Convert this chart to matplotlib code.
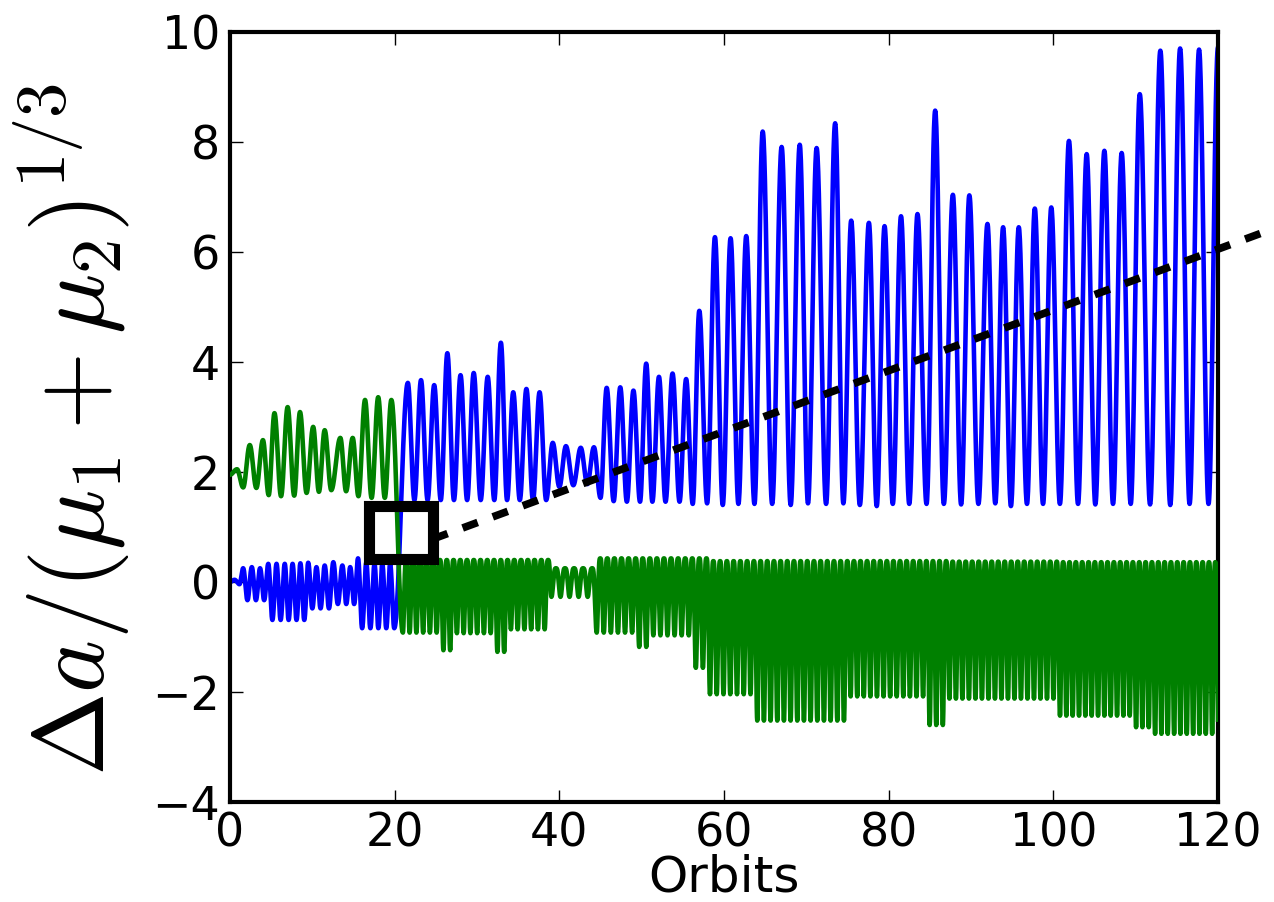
import numpy as np
import matplotlib
matplotlib.use("Agg")
import matplotlib.pyplot as plt
from matplotlib.patches import Rectangle

plt.rcParams['mathtext.fontset'] = 'cm'
plt.rcParams['font.family'] = ['DejaVu Sans']

# ---------------- data ----------------
# x axis: orbits, y axis: Delta a / (mu1+mu2)^(1/3)
x_ticks = [0, 20, 40, 60, 80, 100, 120]
y_ticks = [-4, -2, 0, 2, 4, 6, 8, 10]

# blue body: starts near 0, jumps to upper branch at ~20 orbits
blue_start_t = [0.0, 0.55, 1.15]
blue_start_y = [0.0, 0.04, -0.04]
blue_low_peak_t = [1.6, 2.65, 3.65, 4.65, 5.65, 6.65, 7.6, 8.55, 9.5, 10.5,
                   11.5, 12.55, 13.65, 14.6, 15.55, 16.55, 17.55, 18.5, 19.45]
blue_low_peak_y = [0.25, 0.27, 0.25, 0.33, 0.33, 0.33, 0.33, 0.34, 0.35, 0.27,
                   0.30, 0.36, 0.30, 0.27, 0.43, 0.35, 0.33, 0.33, 0.33]
blue_low_trough_t = [2.12, 3.15, 4.15, 5.15, 6.15, 7.12, 8.08, 9.02, 10.0, 11.0,
                     12.02, 13.1, 14.12, 15.08, 16.05, 17.05, 18.02, 18.98, 19.95]
blue_low_trough_y = [-0.33, -0.33, -0.33, -0.69, -0.69, -0.69, -0.69, -0.69, -0.48, -0.48,
                     -0.48, -0.40, -0.40, -0.40, -0.84, -0.84, -0.84, -0.84, -0.84]
blue_high_peak_t = [21.6, 23.2, 24.8, 26.4, 28.0, 29.6, 31.3, 32.9, 34.4, 36.0,
                    37.6, 39.2, 40.8, 42.6, 44.2, 45.75, 47.4, 49.0, 50.55, 52.1,
                    53.75, 55.4, 57.0, 58.9, 60.8, 62.7, 64.7, 67.0, 69.2, 71.25,
                    73.5, 75.45, 77.6, 79.5, 81.5, 83.5, 85.65, 87.8, 89.8, 92.0,
                    93.9, 95.8, 97.75, 99.75, 101.9, 104.05, 106.2, 108.3, 110.5, 113.0,
                    115.4, 117.7, 120.0]
blue_high_peak_y = [3.62, 3.67, 3.58, 4.16, 3.76, 3.80, 3.73, 4.35, 3.45, 3.51,
                    3.45, 2.53, 2.47, 2.44, 2.45, 3.53, 3.54, 3.48, 3.97, 3.73,
                    3.79, 3.69, 4.93, 6.27, 6.25, 6.29, 8.19, 7.91, 7.95, 7.89,
                    8.34, 6.57, 6.53, 6.47, 6.65, 6.69, 8.57, 7.04, 7.03, 6.51,
                    6.45, 6.45, 6.79, 6.81, 8.02, 7.78, 7.84, 7.80, 8.87, 9.66,
                    9.70, 9.68, 9.72]
blue_high_trough_t = [22.4, 24.0, 25.6, 27.2, 28.8, 30.45, 32.1, 33.65, 35.2, 36.8,
                      38.4, 40.0, 41.7, 43.4, 45.0, 46.6, 48.2, 49.8, 51.3, 52.9,
                      54.6, 56.2, 57.95, 59.85, 61.75, 63.7, 65.85, 68.1, 70.2, 72.4,
                      74.5, 76.5, 78.55, 80.5, 82.5, 84.6, 86.7, 88.8, 90.9, 92.95,
                      94.85, 96.8, 98.75, 100.8, 103.0, 105.1, 107.25, 109.4, 111.75, 114.2,
                      116.55, 118.85]
blue_high_trough_y = [1.49, 1.49, 1.49, 1.49, 1.49, 1.49, 1.49, 1.49, 1.49, 1.49,
                      1.49, 1.73, 1.76, 1.78, 1.53, 1.47, 1.46, 1.46, 1.46, 1.46,
                      1.46, 1.42, 1.43, 1.40, 1.42, 1.42, 1.42, 1.40, 1.43, 1.42,
                      1.43, 1.40, 1.38, 1.42, 1.42, 1.42, 1.42, 1.41, 1.42, 1.43,
                      1.38, 1.42, 1.42, 1.42, 1.42, 1.41, 1.42, 1.42, 1.41, 1.40,
                      1.42, 1.42]

# green body: starts near 2, drops to lower branch at ~20 orbits
green_start_t = [0.0, 0.85, 1.6]
green_start_y = [1.95, 2.05, 1.72]
green_high_peak_t = [2.4, 4.0, 5.4, 7.0, 8.5, 10.1, 11.5, 13.4, 14.9, 16.4, 18.0, 19.6]
green_high_peak_y = [2.49, 2.58, 3.07, 3.18, 3.09, 2.82, 2.76, 2.62, 2.62, 3.31, 3.36, 3.31]
green_high_trough_t = [3.2, 4.7, 6.2, 7.8, 9.3, 10.8, 12.3, 14.1, 15.6, 17.2, 18.8]
green_high_trough_y = [1.71, 1.58, 1.56, 1.57, 1.62, 1.64, 1.67, 1.65, 1.56, 1.53, 1.53]
# lower branch: fast oscillation, read as stretches with tooth depth, top level and spacing
green_low_first_t = 21.0
green_low_seg_end = [25.5, 27.2, 32.2, 33.7, 38.9, 44.5, 49.6, 51.4, 56.1, 58.0,
                     63.7, 74.6, 84.4, 86.9, 100.7, 109.4, 112.0, 120.5]
green_low_seg_top = [0.40, 0.40, 0.40, 0.40, 0.40, 0.25, 0.43, 0.43, 0.43, 0.43,
                     0.38, 0.38, 0.38, 0.38, 0.37, 0.36, 0.36, 0.36]
green_low_seg_bottom = [-0.92, -1.24, -0.93, -1.27, -0.86, -0.27, -0.92, -1.18, -0.97, -1.56,
                        -2.04, -2.52, -2.08, -2.60, -2.12, -2.43, -2.64, -2.76]
green_low_seg_spacing = [0.82, 0.82, 0.82, 0.82, 0.82, 1.10, 0.86, 0.86, 0.86, 0.86,
                         0.82, 0.81, 0.80, 0.80, 0.79, 0.77, 0.77, 0.77]

# dashed trend line and box
trend_t = [24.6, 131.0]
trend_y = [0.78, 6.66]
box_x0, box_y0, box_w, box_h = 16.86, 0.424, 7.76, 0.962


# ---------------- helpers ----------------
def through_extremes(t_ext, y_ext, n, q=1.0):
    ts, ys = [], []
    for i in range(len(t_ext) - 1):
        s = np.linspace(0, 1, n, endpoint=False)
        f = (1 - np.cos(np.pi * s)) / 2
        y0, y1 = y_ext[i], y_ext[i + 1]
        if y0 >= y1:
            y = y0 - (y0 - y1) * f ** q
        else:
            y = y1 - (y1 - y0) * (1 - f) ** q
        ts.append(t_ext[i] + (t_ext[i + 1] - t_ext[i]) * s)
        ys.append(y)
    ts.append(np.array([t_ext[-1]]))
    ys.append(np.array([y_ext[-1]]))
    return np.concatenate(ts), np.concatenate(ys)


def merged(*pairs):
    t = np.concatenate([np.asarray(p[0], float) for p in pairs])
    y = np.concatenate([np.asarray(p[1], float) for p in pairs])
    o = np.argsort(t, kind='stable')
    return t[o], y[o]


# blue curve
bt, by = merged((blue_start_t, blue_start_y), (blue_low_peak_t, blue_low_peak_y),
                (blue_low_trough_t, blue_low_trough_y),
                (blue_high_peak_t, blue_high_peak_y),
                (blue_high_trough_t, blue_high_trough_y))
blue_x, blue_y = through_extremes(bt, by, 30)

# green lower-branch extremes
g_ext_t, g_ext_y = [], []
tt = green_low_first_t
for end, top, bot, sp in zip(green_low_seg_end, green_low_seg_top,
                             green_low_seg_bottom, green_low_seg_spacing):
    while tt < end:
        g_ext_t.append(tt)
        g_ext_y.append(bot)
        g_ext_t.append(tt + sp / 2)
        g_ext_y.append(top)
        tt += sp

gt, gy = merged((green_start_t, green_start_y), (green_high_peak_t, green_high_peak_y),
                (green_high_trough_t, green_high_trough_y))
gt = np.append(gt, g_ext_t[0])
gy = np.append(gy, g_ext_y[0])
g1x, g1y = through_extremes(gt, gy, 30)
g2x, g2y = through_extremes(g_ext_t, g_ext_y, 14, q=1.7)
green_x = np.concatenate([g1x[:-1], g2x])
green_y = np.concatenate([g1y[:-1], g2y])

# ---------------- figure ----------------
fig = plt.figure(figsize=(12.74, 9.02), dpi=100)
ax = fig.add_axes([230 / 1274, 100 / 902, 988 / 1274, 770 / 902])

ax.plot(blue_x, blue_y, color='#0000ff', lw=3.3, zorder=2)
ax.plot(green_x, green_y, color='#008000', lw=3.3, zorder=3)
ax.plot(trend_t, trend_y, color='black', lw=5.5, dashes=(2.1, 2.1),
        clip_on=False, zorder=4)
ax.add_patch(Rectangle((box_x0, box_y0), box_w, box_h, fill=False,
                       edgecolor='black', lw=8, zorder=5))

ax.set_xlim(0, 120)
ax.set_ylim(-4, 10)
ax.set_xticks(x_ticks)
ax.set_yticks(y_ticks)
ax.tick_params(direction='in', length=9, width=1, top=True, right=True,
               labelsize=33, pad=7)
for sp in ax.spines.values():
    sp.set_linewidth(3)

ax.set_xlabel('Orbits', fontsize=36, va='top')
ax.xaxis.set_label_coords(0.5, -0.067)
ax.set_ylabel(r'$\Delta a/(\mu_1+\mu_2)^{1/3}$', fontsize=72.5)
ax.yaxis.set_label_coords(-0.099, 0.484)

fig.savefig('out.png', dpi=100)
